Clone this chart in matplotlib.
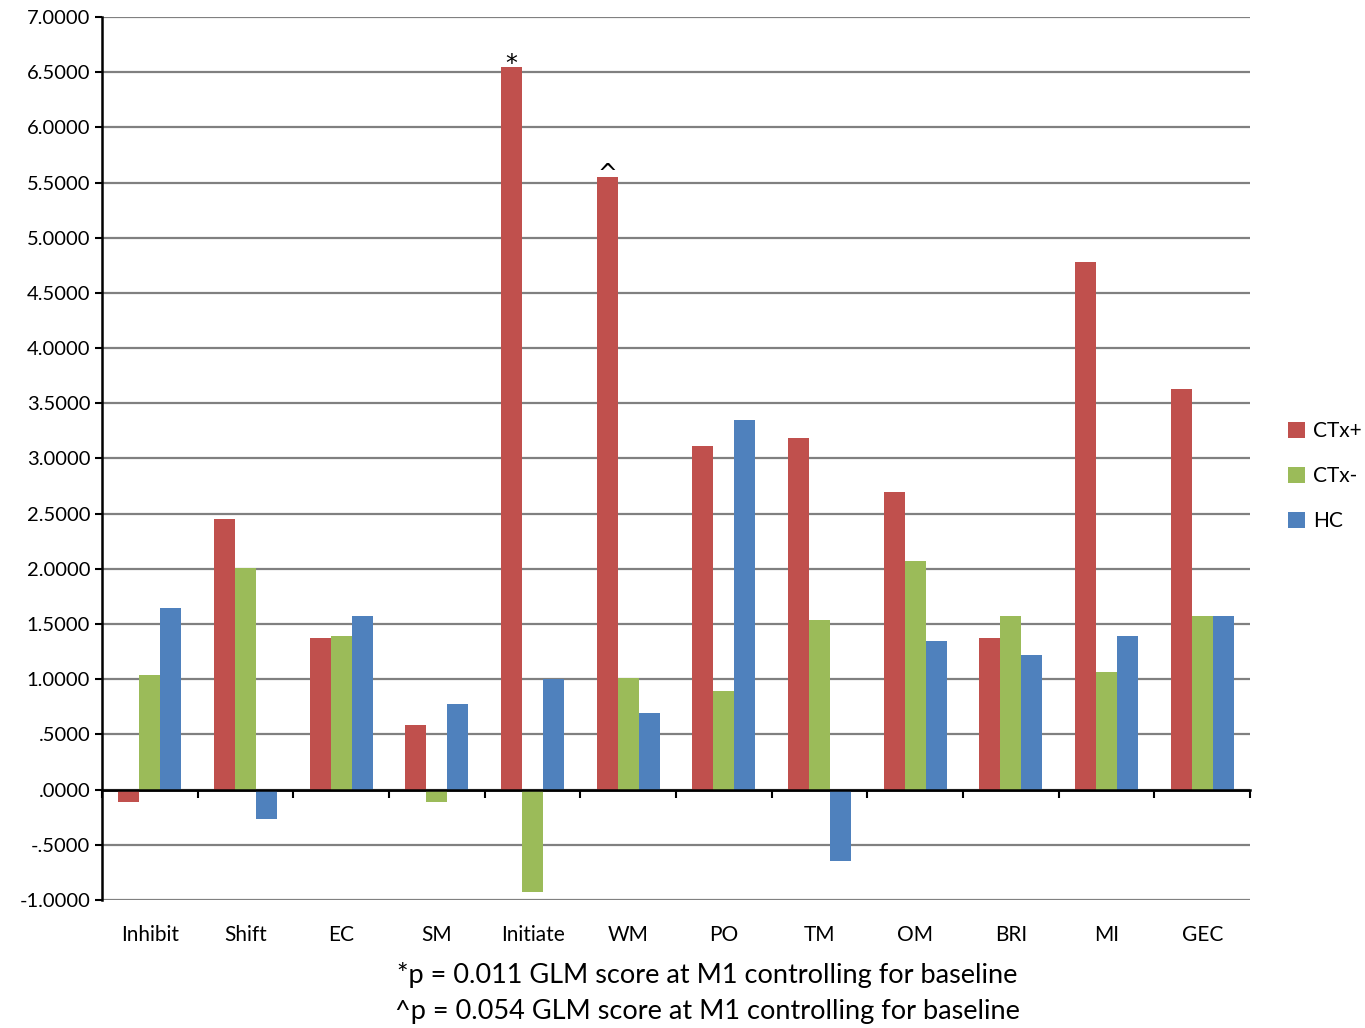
import matplotlib.pyplot as plt
import numpy as np

categories = ['Inhibit', 'Shift', 'EC', 'SM', 'Initiate', 'WM', 'PO', 'TM', 'OM', 'BRI', 'MI', 'GEC']
ctx_pos = [-0.11, 2.45, 1.37, 0.59, 6.55, 5.55, 3.11, 3.19, 2.70, 1.37, 4.78, 3.63]
ctx_neg = [1.04, 2.01, 1.39, -0.11, -0.93, 1.01, 0.89, 1.54, 2.07, 1.57, 1.07, 1.57]
hc = [1.65, -0.27, 1.57, 0.78, 1.00, 0.69, 3.35, -0.65, 1.35, 1.22, 1.39, 1.57]
series_names = ['CTx+', 'CTx-', 'HC']
yticks = [-1.0, -0.5, 0.0, 0.5, 1.0, 1.5, 2.0, 2.5, 3.0, 3.5, 4.0, 4.5, 5.0, 5.5, 6.0, 6.5, 7.0]
ytick_labels = ['-1.0000', '-.5000', '.0000', '.5000', '1.0000', '1.5000', '2.0000', '2.5000',
                '3.0000', '3.5000', '4.0000', '4.5000', '5.0000', '5.5000', '6.0000', '6.5000', '7.0000']
marks = {'Initiate': '*', 'WM': '^'}
footnotes = ['*p = 0.011 GLM score at M1 controlling for baseline',
             '^p = 0.054 GLM score at M1 controlling for baseline']

colors = ['#C0504D', '#9BBB59', '#4F81BD']
plt.rcParams['font.family'] = ['Lato', 'DejaVu Sans']

fig = plt.figure(figsize=(13.65, 10.28), dpi=100)
ax = fig.add_axes([0.0747, 0.1245, 0.8411, 0.859])

x = np.arange(len(categories))
w = 0.22
for i, (vals, name) in enumerate(zip([ctx_pos, ctx_neg, hc], series_names)):
    ax.bar(x + (i - 1) * w, vals, w, color=colors[i], label=name, zorder=3)

for cat, m in marks.items():
    j = categories.index(cat)
    ax.text(j - w, ctx_pos[j] - 0.04, m, ha='center', va='baseline', fontsize=17,
            family='DejaVu Sans', zorder=4)

ax.set_xlim(-0.5, len(categories) - 0.5)
ax.set_ylim(-1.0, 7.0)
ax.set_yticks(yticks)
ax.set_yticklabels(ytick_labels, fontsize=14.5)
ax.grid(axis='y', color='#808080', linewidth=1.6, zorder=0)
ax.set_xticks(x)
ax.set_xticklabels(categories, fontsize=15)
ax.tick_params(axis='x', length=0, pad=18)
ax.tick_params(axis='y', length=5, width=1.5, color='black')
for s in ['top', 'right', 'bottom']:
    ax.spines[s].set_visible(False)
ax.spines['left'].set_linewidth(1.8)

# x axis line at zero with category-boundary ticks
zero_ax = ax.secondary_xaxis(1 / 8)
zero_ax.set_xticks(np.arange(len(categories) + 1) - 0.5)
zero_ax.set_xticklabels([])
zero_ax.tick_params(length=6, width=1.5, direction='out')
zero_ax.spines['bottom'].set_linewidth(1.8)
ax.axhline(0, color='black', linewidth=1.8, zorder=4)

handles, labels = ax.get_legend_handles_labels()
fig.legend(handles, labels, loc='center left', bbox_to_anchor=(0.93, 0.537), frameon=False,
           fontsize=15, handlelength=0.8, handleheight=0.8, handletextpad=0.4, labelspacing=1.2)

fig.text(0.518, 0.0516, footnotes[0], ha='center', va='center', fontsize=19.5)
fig.text(0.518, 0.0165, footnotes[1], ha='center', va='center', fontsize=19.5)

fig.savefig('out.png', dpi=100)
